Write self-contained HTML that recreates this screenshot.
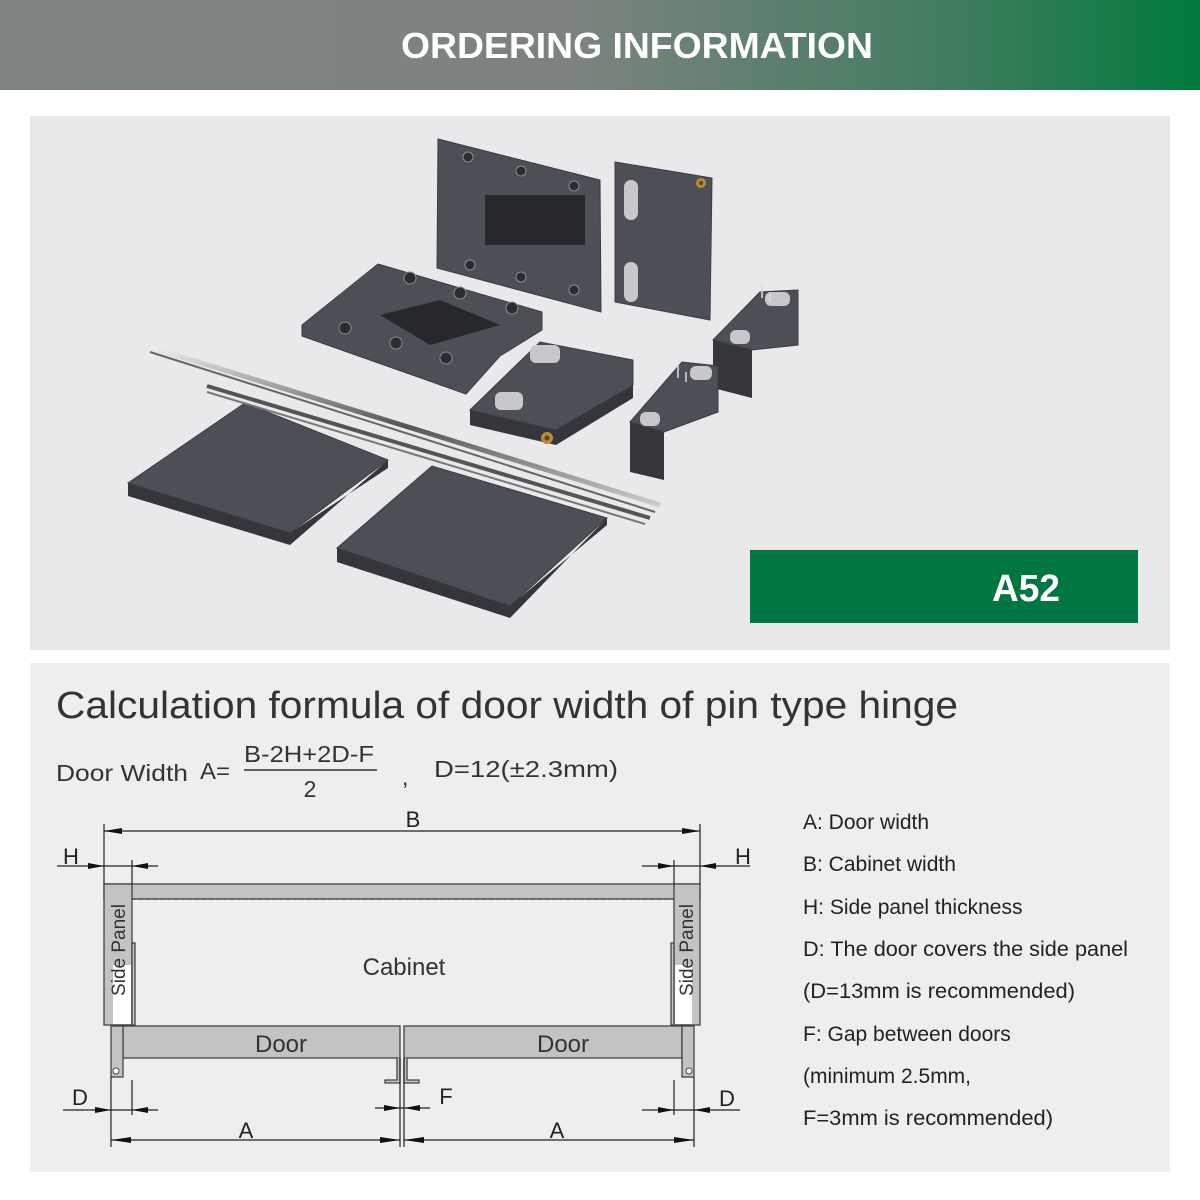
<!DOCTYPE html>
<html><head><meta charset="utf-8"><style>
html,body{margin:0;padding:0;background:#fff;}
svg{display:block;}
text{font-family:"Liberation Sans",sans-serif;}
</style></head><body>
<svg width="1200" height="1200" viewBox="0 0 1200 1200" xmlns="http://www.w3.org/2000/svg">
<defs>
<linearGradient id="hg" x1="0" y1="0" x2="1" y2="0">
<stop offset="0" stop-color="#7f8480"/><stop offset="0.48" stop-color="#7c837e"/><stop offset="0.8" stop-color="#3f7c5e"/><stop offset="1" stop-color="#007a3d"/>
</linearGradient>
<linearGradient id="rod" x1="0" y1="0" x2="0" y2="1">
<stop offset="0" stop-color="#eee"/><stop offset="0.5" stop-color="#555"/><stop offset="1" stop-color="#ccc"/>
</linearGradient>
</defs>
<rect width="1200" height="1200" fill="#fff"/>
<rect x="0" y="0" width="1200" height="90" fill="url(#hg)"/>
<text x="637" y="58" font-size="36" font-weight="bold" fill="#fff" text-anchor="middle" textLength="472" lengthAdjust="spacingAndGlyphs">ORDERING INFORMATION</text>

<rect x="30" y="116" width="1140" height="534" fill="#e9e8ea"/>
<!-- thickness edges -->
<g fill="#34363b">
<polygon points="128,483 128,496 290,545 290,533"/>
<polygon points="290,533 388,468 388,460 290,545"/>
<polygon points="337,548 337,562 510,618 510,606"/>
<polygon points="510,606 607,525 607,518 510,618"/>
<polygon points="470,410 470,425 556,445 556,430"/>
<polygon points="556,430 633,385 633,398 556,445"/>
<polygon points="713,340 713,388 752,398 752,350"/>
<polygon points="630,422 630,472 664,480 664,432"/>
</g>
<g fill="#4d4f56" stroke="#3a3c42" stroke-width="1">
<polygon points="438,139 600,180 601,312 437,268"/>
<polygon points="615,162 712,178 710,320 615,302"/>
<polygon points="302,325 378,264 542,312 542,330 500,356 466,394 302,336"/>
<polygon points="470,410 540,342 633,360 633,385 556,430"/>
<polygon points="128,483 245,403 388,460 290,533"/>
<polygon points="337,548 432,466 607,518 510,606"/>
<polygon points="713,340 760,292 798,290 798,345 752,350"/>
<polygon points="630,422 682,362 718,366 718,412 664,432"/>
</g>
<g fill="#26282c">
<rect x="485" y="195" width="100" height="50"/>
<polygon points="380,315 440,300 500,325 430,345"/>
</g>
<g fill="#2a2c30" stroke="#8a8c92" stroke-width="1">
<circle cx="468" cy="157" r="5"/><circle cx="521" cy="171" r="5"/><circle cx="574" cy="186" r="5"/>
<circle cx="470" cy="265" r="5"/><circle cx="521" cy="277" r="5"/><circle cx="574" cy="290" r="5"/>
<circle cx="410" cy="278" r="6"/><circle cx="460" cy="293" r="6"/><circle cx="512" cy="308" r="6"/>
<circle cx="345" cy="328" r="6"/><circle cx="396" cy="343" r="6"/><circle cx="446" cy="358" r="6"/>
</g>
<g fill="#c8c8cc">
<rect x="624" y="180" width="14" height="40" rx="7"/><rect x="624" y="262" width="14" height="40" rx="7"/>
<rect x="530" y="345" width="30" height="18" rx="6"/><rect x="495" y="392" width="28" height="18" rx="6"/>
<rect x="765" y="292" width="25" height="14" rx="6"/><rect x="730" y="330" width="20" height="14" rx="6"/>
<rect x="690" y="366" width="22" height="14" rx="6"/><rect x="640" y="412" width="20" height="14" rx="6"/>
</g>
<g stroke="#ddd" stroke-width="1.5">
<line x1="762" y1="298" x2="762" y2="284"/><line x1="770" y1="302" x2="770" y2="292"/>
<line x1="678" y1="378" x2="678" y2="364"/><line x1="686" y1="382" x2="686" y2="372"/>
</g>
<circle cx="701" cy="183" r="5" fill="#b88a3a"/><circle cx="701" cy="183" r="2" fill="#5a4020"/>
<circle cx="547" cy="438" r="6" fill="#b88a3a"/><circle cx="547" cy="438" r="2.5" fill="#5a4020"/>
<line x1="150" y1="347" x2="660" y2="505" stroke="url(#rod)" stroke-width="5"/>
<line x1="150" y1="352" x2="655" y2="512" stroke="#666" stroke-width="2"/>
<line x1="207" y1="386" x2="650" y2="518" stroke="#555" stroke-width="4"/>
<line x1="207" y1="392" x2="645" y2="524" stroke="#777" stroke-width="2"/>

<rect x="750" y="550" width="388" height="73" fill="#007642"/>
<text x="1026" y="601" font-size="38" font-weight="bold" fill="#fff" text-anchor="middle" textLength="68" lengthAdjust="spacingAndGlyphs">A52</text>

<rect x="30" y="663" width="1140" height="509" fill="#eeeeef"/>
<text x="56" y="718" font-size="38" fill="#333" textLength="902" lengthAdjust="spacingAndGlyphs">Calculation formula of door width of pin type hinge</text>
<g fill="#333" font-size="23">
<text x="56" y="781" textLength="132" lengthAdjust="spacingAndGlyphs">Door Width</text>
<text x="200" y="779" textLength="30" lengthAdjust="spacingAndGlyphs">A=</text>
<text x="244" y="762" textLength="130" lengthAdjust="spacingAndGlyphs">B-2H+2D-F</text>
<line x1="244" y1="770" x2="377" y2="770" stroke="#333" stroke-width="1.5"/>
<text x="310" y="797" text-anchor="middle">2</text>
<text x="402" y="785">,</text>
<text x="434" y="777" textLength="184" lengthAdjust="spacingAndGlyphs">D=12(±2.3mm)</text>
</g>

<g fill="#222" font-size="21">
<text x="803" y="829">A: Door width</text>
<text x="803" y="871">B: Cabinet width</text>
<text x="803" y="914">H: Side panel thickness</text>
<text x="803" y="956" textLength="325" lengthAdjust="spacingAndGlyphs">D: The door covers the side panel</text>
<text x="803" y="998" textLength="272" lengthAdjust="spacingAndGlyphs">(D=13mm is recommended)</text>
<text x="803" y="1041">F: Gap between doors</text>
<text x="803" y="1083">(minimum 2.5mm,</text>
<text x="803" y="1125" textLength="250" lengthAdjust="spacingAndGlyphs">F=3mm is recommended)</text>
</g>

<g stroke="#444" stroke-width="1.3" fill="#c3c3c3">
<rect x="104" y="884" width="596" height="15"/>
<rect x="104" y="884" width="28" height="141"/>
<rect x="674" y="884" width="26" height="141"/>
<rect x="123" y="1026" width="277" height="32"/>
<rect x="404" y="1026" width="278" height="32"/>
<rect x="111" y="1026" width="12" height="51"/>
<rect x="682" y="1026" width="12" height="51"/>
<rect x="132" y="943" width="3" height="82"/>
<rect x="671" y="943" width="3" height="82"/>
</g>
<rect x="113" y="965" width="18" height="59" fill="#fff"/>
<rect x="675" y="965" width="17" height="59" fill="#fff"/>
<line x1="132" y1="899" x2="674" y2="899" stroke="#444" stroke-width="1.3" stroke-dasharray="4,3"/>
<circle cx="116" cy="1071" r="3" fill="#fff" stroke="#444"/>
<circle cx="689" cy="1071" r="3" fill="#fff" stroke="#444"/>
<g stroke="#444" stroke-width="1.3" fill="#c3c3c3">
<path d="M397,1058 V1080 H385 V1083 H400 V1058"/>
<path d="M407,1058 V1080 H419 V1083 H404 V1058"/>
</g>
<g stroke="#222" stroke-width="1.2" fill="none">
<line x1="104" y1="824" x2="104" y2="884"/><line x1="700" y1="824" x2="700" y2="884"/>
<line x1="104" y1="831" x2="700" y2="831"/>
<line x1="57" y1="866" x2="158" y2="866"/><line x1="132" y1="860" x2="132" y2="884"/>
<line x1="642" y1="866" x2="750" y2="866"/><line x1="674" y1="860" x2="674" y2="884"/>
<line x1="63" y1="1110" x2="158" y2="1110"/><line x1="132" y1="1080" x2="132" y2="1115"/>
<line x1="111" y1="1077" x2="111" y2="1147"/><line x1="694" y1="1077" x2="694" y2="1147"/>
<line x1="642" y1="1110" x2="740" y2="1110"/><line x1="674" y1="1080" x2="674" y2="1115"/>
<line x1="375" y1="1108" x2="430" y2="1108"/>
<line x1="400" y1="1058" x2="400" y2="1147"/><line x1="404" y1="1058" x2="404" y2="1147"/>
<line x1="111" y1="1140" x2="400" y2="1140"/><line x1="404" y1="1140" x2="694" y2="1140"/>
</g>
<g fill="#111">
<polygon points="104,831 122,828 122,834"/><polygon points="700,831 682,828 682,834"/>
<polygon points="104,866 88,863 88,869"/><polygon points="132,866 148,863 148,869"/>
<polygon points="674,866 658,863 658,869"/><polygon points="700,866 716,863 716,869"/>
<polygon points="111,1110 95,1107 95,1113"/><polygon points="132,1110 148,1107 148,1113"/>
<polygon points="674,1110 658,1107 658,1113"/><polygon points="694,1110 710,1107 710,1113"/>
<polygon points="400,1108 384,1105 384,1111"/><polygon points="404,1108 420,1105 420,1111"/>
<polygon points="111,1140 131,1137 131,1143"/><polygon points="400,1140 380,1137 380,1143"/>
<polygon points="404,1140 424,1137 424,1143"/><polygon points="694,1140 674,1137 674,1143"/>
</g>
<g fill="#222" font-size="22" text-anchor="middle">
<text x="413" y="827">B</text>
<text x="71" y="864">H</text><text x="743" y="864">H</text>
<text x="80" y="1105">D</text><text x="727" y="1106">D</text>
<text x="446" y="1104">F</text>
<text x="246" y="1138">A</text><text x="557" y="1138">A</text>
</g>
<g fill="#333" font-size="24" text-anchor="middle">
<text x="404" y="975">Cabinet</text>
<text x="281" y="1052">Door</text><text x="563" y="1052">Door</text>
</g>
<text transform="translate(125,950) rotate(-90)" font-size="19" fill="#333" text-anchor="middle">Side Panel</text>
<text transform="translate(693,950) rotate(-90)" font-size="19" fill="#333" text-anchor="middle">Side Panel</text>
</svg>
</body></html>
